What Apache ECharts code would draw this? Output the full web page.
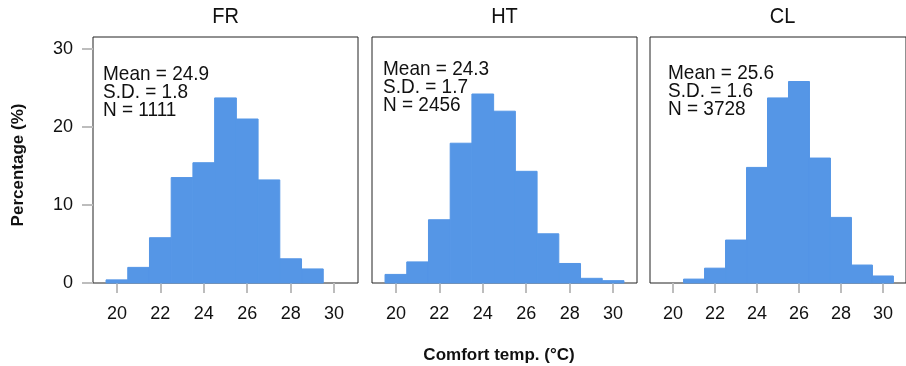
<!DOCTYPE html>
<html>
<head>
<meta charset="utf-8">
<script src="https://cdn.jsdelivr.net/npm/echarts@6/dist/echarts.min.js"></script>
<style>
  html, body { margin: 0; padding: 0; background: #fff; }
  #chart { width: 906px; height: 366px; }
</style>
</head>
<body>
<div id="chart"></div>
<script>
// histogram data (percentage per 1 °C bin)
const bins = [20, 21, 22, 23, 24, 25, 26, 27, 28, 29, 30];
const frValues = [0.4, 2.0, 5.8, 13.5, 15.4, 23.7, 21.0, 13.2, 3.1, 1.8, 0];
const htValues = [1.1, 2.7, 8.1, 17.9, 24.2, 22.0, 14.3, 6.3, 2.5, 0.6, 0.3];
const clValues = [0, 0.5, 1.9, 5.5, 14.8, 23.7, 25.8, 16.0, 8.4, 2.3, 0.9];

const panelNames = ["FR", "HT", "CL"];
const means = ["24.9", "24.3", "25.6"];
const sds = ["1.8", "1.7", "1.6"];
const counts = ["1111", "2456", "3728"];

const xTicks = [20, 22, 24, 26, 28, 30];
const yTicks = [0, 10, 20, 30];

const FONT = "Liberation Sans";
const BAR = "#5596E6";
const TICK = "#bdbdbd";

const panelLefts = [93, 372, 650];
const panelW = 265;
const panelTop = 37;
const panelH = 246;
// top-left of the stats text in each panel
const statPos = [[103, 65], [383, 60], [668, 64]];

const allValues = [frValues, htValues, clValues];

const chart = echarts.init(document.getElementById("chart"));

const grids = panelLefts.map((l) => ({
  left: l, top: panelTop, width: panelW, height: panelH,
  show: true, borderColor: "#222", borderWidth: 1, containLabel: false,
}));

const xAxes = panelLefts.map((_, i) => ({
  type: "value", gridIndex: i, min: 18.9, max: 31.1,
  axisLine: { show: false },
  splitLine: { show: false },
  axisTick: {
    show: true, length: 10, customValues: xTicks,
    lineStyle: { color: TICK, width: 2 },
  },
  axisLabel: {
    customValues: xTicks, margin: 22,
    color: "#111", fontSize: 18, fontFamily: FONT,
  },
}));

const yAxes = panelLefts.map((_, i) => ({
  type: "value", gridIndex: i, min: 0, max: 31.5,
  axisLine: { show: false },
  splitLine: { show: false },
  axisTick: {
    show: i === 0, length: 11, customValues: yTicks,
    lineStyle: { color: TICK, width: 2 },
  },
  axisLabel: {
    show: i === 0, customValues: yTicks, margin: 20,
    color: "#111", fontSize: 18, fontFamily: FONT,
  },
}));

const series = allValues.map((vals, i) => ({
  type: "custom",
  xAxisIndex: i, yAxisIndex: i,
  data: bins.map((b, k) => [b, vals[k]]),
  renderItem: (params, api) => {
    const x = api.value(0);
    const y = api.value(1);
    if (!y) return null;
    const p0 = api.coord([x - 0.5, 0]);
    const p1 = api.coord([x + 0.5, y]);
    return {
      type: "rect",
      shape: { x: p0[0], y: p1[1], width: p1[0] - p0[0], height: p0[1] - p1[1] },
      style: { fill: BAR, stroke: BAR, lineWidth: 1 },
    };
  },
}));

const graphics = [];
panelNames.forEach((name, i) => {
  graphics.push({
    type: "text", x: panelLefts[i] + panelW / 2, y: 17,
    scaleY: 1.1,
    style: {
      text: name, align: "center", verticalAlign: "middle",
      font: `20px "${FONT}"`, fill: "#111",
    },
  });
  graphics.push({
    type: "text", x: statPos[i][0], y: statPos[i][1],
    scaleY: 1.1,
    style: {
      text: `Mean = ${means[i]}\nS.D. = ${sds[i]}\nN = ${counts[i]}`,
      font: `19px "${FONT}"`, fill: "#111",
      lineHeight: 16.6, verticalAlign: "top",
    },
  });
});
graphics.push({
  type: "text", x: 499, y: 355,
  style: {
    text: "Comfort temp. (°C)", align: "center", verticalAlign: "middle",
    font: `bold 17px "${FONT}"`, fill: "#111",
  },
});
graphics.push({
  type: "text", x: 18.5, y: 165, rotation: Math.PI / 2,
  style: {
    text: "Percentage (%)", align: "center", verticalAlign: "middle",
    font: `bold 17px "${FONT}"`, fill: "#111",
  },
});

chart.setOption({
  animation: false,
  grid: grids,
  xAxis: xAxes,
  yAxis: yAxes,
  series: series,
  graphic: graphics,
});
</script>
</body>
</html>
